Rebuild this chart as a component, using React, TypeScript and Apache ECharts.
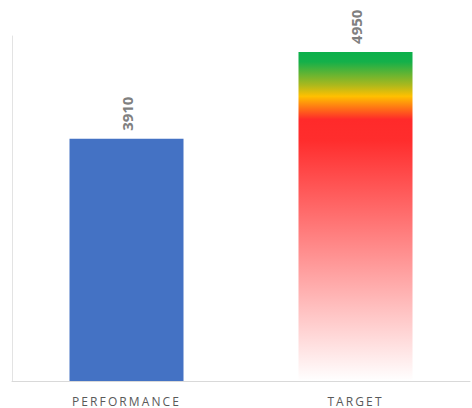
import { useEffect, useRef } from "react";
import * as echarts from "echarts";

// Chart data
const categories = ["PERFORMANCE", "TARGET"];
const values = [3910, 4950];
const performanceColor = "#4472c4";

// Value axis range (the axis itself is hidden apart from its line)
const axisMin = 1015;
const axisMax = 5140;

// Traffic-light fill for the target bar: green at the top, through amber
// to red, then fading out to white at the base.
const targetStops = [
  { offset: 0, color: "#0bb04b" },
  { offset: 0.03, color: "#14b04a" },
  { offset: 0.1, color: "#a9b81e" },
  { offset: 0.135, color: "#ffc000" },
  { offset: 0.175, color: "#ff6a18" },
  { offset: 0.205, color: "#ff2a2a" },
  { offset: 0.27, color: "#ff2d2d" },
  { offset: 1, color: "#ffffff" },
];

export default function App() {
  const ref = useRef<HTMLDivElement>(null);

  useEffect(() => {
    document.body.style.margin = "0";
    const el = ref.current!;
    const chart = echarts.init(el, null, { renderer: "svg" });

    const targetFill = new echarts.graphic.LinearGradient(0, 0, 0, 1, targetStops);
    const fills = [performanceColor, targetFill];

    chart.setOption({
      animation: false,
      grid: { left: 12, right: 2, top: 36, bottom: 27 },
      xAxis: {
        type: "category",
        data: categories,
        axisLine: { show: true, lineStyle: { color: "#d9d9d9", width: 1 } },
        axisTick: { show: false },
        axisLabel: {
          color: "#595959",
          fontSize: 12,
          fontFamily: "Open Sans",
          margin: 14,
        },
      },
      yAxis: {
        type: "value",
        min: axisMin,
        max: axisMax,
        axisLine: { show: true, lineStyle: { color: "#e3e3e3", width: 1 } },
        axisTick: { show: false },
        axisLabel: { show: false },
        splitLine: { show: false },
      },
      series: [
        {
          type: "bar",
          barWidth: 114,
          data: values.map((v, i) => ({ value: v, itemStyle: { color: fills[i] } })),
          label: {
            show: true,
            position: "top",
            distance: 8,
            rotate: 90,
            align: "left",
            verticalAlign: "middle",
            color: "#7f7f7f",
            fontWeight: "bold",
            fontSize: 15,
            fontFamily: "Open Sans",
          },
        },
      ],
    });

    // Category labels are letter-spaced
    const spaceLabels = () => {
      el.querySelectorAll("text").forEach((t) => {
        if (categories.includes((t.textContent || "").trim())) {
          t.setAttribute("letter-spacing", "2.1");
        }
      });
    };
    spaceLabels();
    chart.on("finished", spaceLabels);

    return () => chart.dispose();
  }, []);

  return <div ref={ref} style={{ width: 472, height: 408 }} />;
}
